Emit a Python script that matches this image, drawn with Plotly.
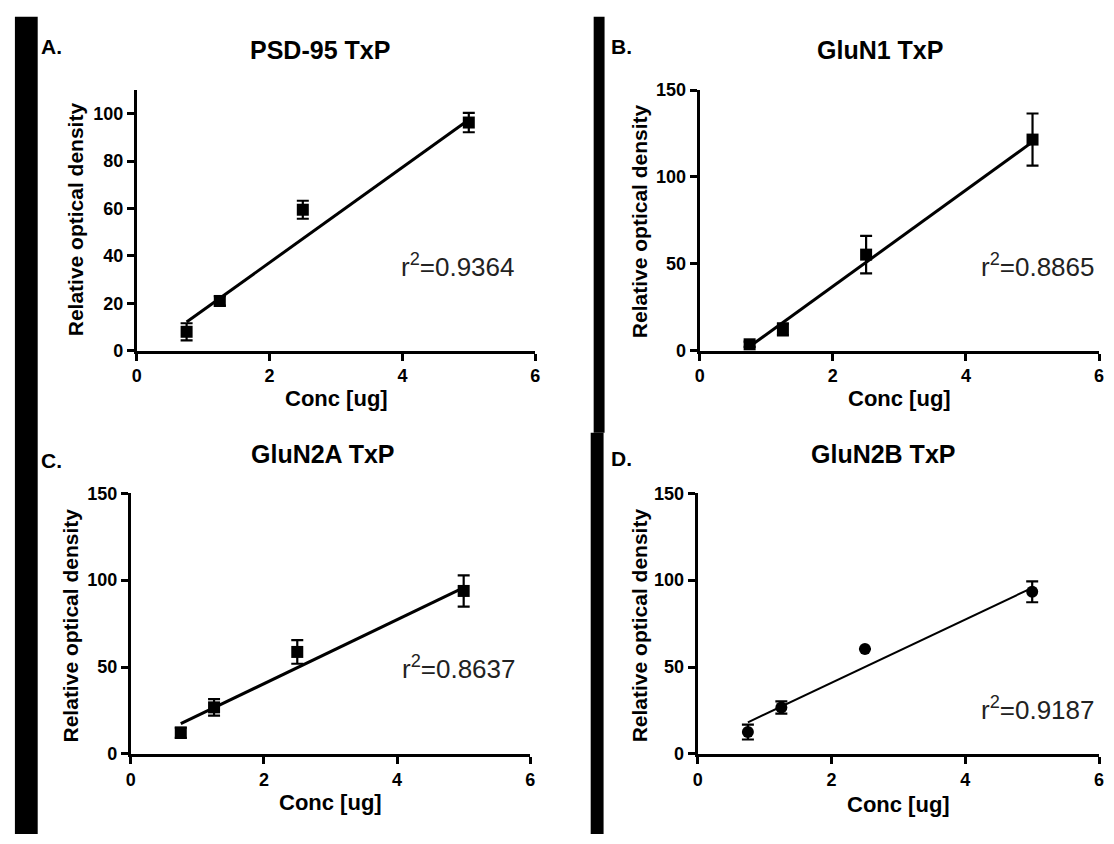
import plotly.graph_objects as go

W, H = 1114, 844

# ---------------- data ----------------
conc = [0.75, 1.25, 2.5, 5.0]

psd95_mean = [8.0, 21.0, 59.5, 96.3]
psd95_err = [3.6, 2.0, 3.8, 4.1]
psd95_fit = [12.1, 97.5]          # fitted line at x = 0.75 and x = 5

glun1_mean = [3.7, 12.3, 55.3, 121.5]
glun1_err = [1.5, 3.5, 10.8, 15.0]
glun1_fit = [2.4, 120.2]

glun2a_mean = [12.2, 26.8, 58.7, 93.8]
glun2a_err = [3.0, 4.7, 6.8, 9.0]
glun2a_fit = [17.4, 95.7]

glun2b_mean = [12.6, 26.7, 60.4, 93.3]
glun2b_err = [4.3, 3.5, 0.0, 6.0]
glun2b_fit = [18.2, 95.6]

fit_x = [0.75, 5.0]

titles = ["PSD-95 TxP", "GluN1 TxP", "GluN2A TxP", "GluN2B TxP"]
letters = ["A.", "B.", "C.", "D."]
r2_labels = ["r<sup>2</sup>=0.9364", "r<sup>2</sup>=0.8865", "r<sup>2</sup>=0.8637", "r<sup>2</sup>=0.9187"]
x_title = "Conc [ug]"
y_title = "Relative optical density"
x_ticks = [0, 2, 4, 6]
y_ticks_a = [0, 20, 40, 60, 80, 100]
y_ticks_bcd = [0, 50, 100, 150]

# ---------------- layout helpers (pixel geometry) ----------------
BOLD = "Liberation Sans, Arial, sans-serif"

def fx(px):
    return px / W

def fy(py):
    return 1 - py / H

panels = [
    dict(x0=133, x1=535, yb=349, yt=82, ymax=110, yticks=y_ticks_a, r2=(3.95, 36),
         mean=psd95_mean, err=psd95_err, fit=psd95_fit, sym="square", lw=3,
         title_dx=-16, title_y=41, letter_xy=(34, 37), ytitle_xy=(72, 214), xtitle_y=398),
    dict(x0=701, x1=1104, yb=349, yt=82, ymax=150, yticks=y_ticks_bcd, r2=(4.2, 49),
         mean=glun1_mean, err=glun1_err, fit=glun1_fit, sym="square", lw=3,
         title_dx=-20, title_y=41, letter_xy=(609, 37), ytitle_xy=(641, 216), xtitle_y=398),
    dict(x0=127, x1=530, yb=762, yt=495, ymax=150, yticks=y_ticks_bcd, r2=(4.05, 50),
         mean=glun2a_mean, err=glun2a_err, fit=glun2a_fit, sym="square", lw=3,
         title_dx=-8, title_y=455, letter_xy=(34, 461), ytitle_xy=(66, 630), xtitle_y=812),
    dict(x0=699, x1=1104, yb=762, yt=495, ymax=150, yticks=y_ticks_bcd, r2=(4.2, 26),
         mean=glun2b_mean, err=glun2b_err, fit=glun2b_fit, sym="circle", lw=2,
         title_dx=-16, title_y=455, letter_xy=(609, 459), ytitle_xy=(640, 630), xtitle_y=814),
]

fig = go.Figure()
layout = dict(
    width=W, height=H, margin=dict(l=0, r=0, t=0, b=0),
    paper_bgcolor="white", plot_bgcolor="white", showlegend=False,
)
annotations = []
shapes = []

for i, p in enumerate(panels):
    n = "" if i == 0 else str(i + 1)
    xa, ya = "x" + n, "y" + n
    fig.add_trace(go.Scatter(
        x=fit_x, y=p["fit"], mode="lines", xaxis=xa, yaxis=ya,
        line=dict(color="black", width=p["lw"]), hoverinfo="skip", cliponaxis=False))
    fig.add_trace(go.Scatter(
        x=conc, y=p["mean"], mode="markers", xaxis=xa, yaxis=ya,
        marker=dict(symbol=p["sym"], size=12, color="black"),
        error_y=dict(type="data", array=p["err"], visible=True,
                     color="black", thickness=2.2, width=6),
        cliponaxis=False))
    tickfont = dict(family=BOLD, size=18, color="black", weight="bold")
    layout["xaxis" + n] = dict(
        domain=[fx(p["x0"]), fx(p["x1"])], range=[0, 6], anchor=ya,
        tickvals=x_ticks, ticks="outside", ticklen=7, tickwidth=2.5, tickcolor="black",
        showline=True, linecolor="black", linewidth=3, showgrid=False, zeroline=False,
        tickfont=tickfont, fixedrange=True)
    layout["yaxis" + n] = dict(
        domain=[fy(p["yb"]), fy(p["yt"])], range=[0, p["ymax"]], anchor=xa,
        tickvals=p["yticks"], ticks="outside", ticklen=7, tickwidth=2.5, tickcolor="black",
        showline=True, linecolor="black", linewidth=3, showgrid=False, zeroline=False,
        tickfont=tickfont, fixedrange=True)
    cx = (p["x0"] + p["x1"]) / 2
    annotations.append(dict(text=titles[i], x=fx(cx + p["title_dx"]), y=fy(p["title_y"]),
                            xref="paper", yref="paper",
                            xanchor="center", yanchor="middle", showarrow=False,
                            font=dict(family=BOLD, size=25, color="black", weight="bold")))
    lx, ly = p["letter_xy"]
    annotations.append(dict(text=letters[i], x=fx(lx), y=fy(ly), xref="paper", yref="paper",
                            xanchor="left", yanchor="middle", showarrow=False,
                            font=dict(family=BOLD, size=21, color="black", weight="bold")))
    yx, yy = p["ytitle_xy"]
    annotations.append(dict(text=y_title, x=fx(yx), y=fy(yy), xref="paper", yref="paper",
                            xanchor="center", yanchor="middle", showarrow=False, textangle=-90,
                            font=dict(family=BOLD, size=21, color="black", weight="bold")))
    annotations.append(dict(text=x_title, x=fx(cx), y=fy(p["xtitle_y"]), xref="paper", yref="paper",
                            xanchor="center", yanchor="middle", showarrow=False,
                            font=dict(family=BOLD, size=22, color="black", weight="bold")))
    rx, ry = p["r2"]
    annotations.append(dict(text=r2_labels[i], x=rx, y=ry, xref=xa, yref=ya,
                            xanchor="left", yanchor="middle", showarrow=False,
                            font=dict(family=BOLD, size=26, color="#222222")))

bars = [(10, 33, 7, 844), (594, 605, 7, 433), (591, 604, 433, 844)]
for x0, x1, y0, y1 in bars:
    shapes.append(dict(type="rect", xref="paper", yref="paper",
                       x0=fx(x0), x1=fx(x1), y0=fy(y1), y1=fy(y0),
                       fillcolor="black", line=dict(width=0), layer="above"))

layout["annotations"] = annotations
layout["shapes"] = shapes
fig.update_layout(**layout)
fig.write_html("out.html", include_plotlyjs=True,
               config={"displayModeBar": False},
               post_script="document.body.style.margin='0';document.body.style.padding='0';")
